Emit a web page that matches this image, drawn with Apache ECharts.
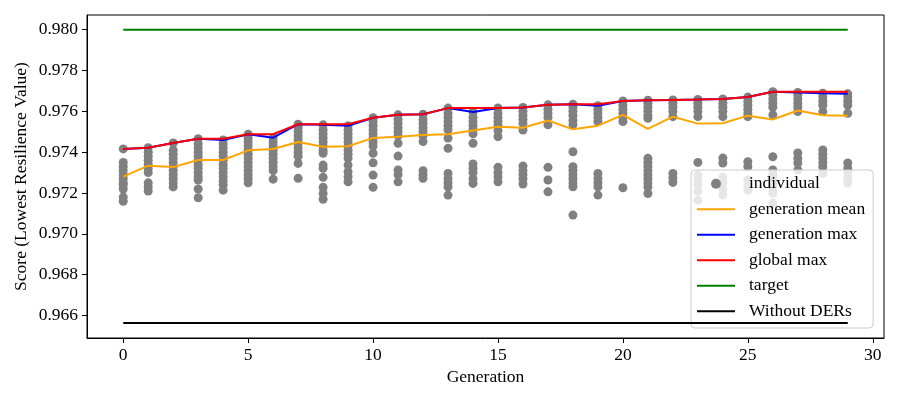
<!DOCTYPE html>
<html>
<head>
<meta charset="utf-8">
<script src="https://cdn.jsdelivr.net/npm/echarts@6/dist/echarts.min.js"></script>
<style>
html,body{margin:0;padding:0;background:#fff;}
#chart{width:900px;height:400px;}
</style>
</head>
<body>
<div id="chart"></div>
<script>
const generations = [0,1,2,3,4,5,6,7,8,9,10,11,12,13,14,15,16,17,18,19,20,21,22,23,24,25,26,27,28,29];
const genMean = [0.97280,0.97334,0.97327,0.97362,0.97362,0.97409,0.97416,0.97450,0.97427,0.97429,0.97470,0.97476,0.97484,0.97488,0.97506,0.97525,0.97520,0.97555,0.97512,0.97530,0.97583,0.97514,0.97574,0.97540,0.97542,0.97579,0.97560,0.97604,0.97581,0.97579];
const genMax = [0.97416,0.97422,0.97445,0.97466,0.97460,0.97488,0.97471,0.97537,0.97534,0.97529,0.97569,0.97583,0.97586,0.97616,0.97597,0.97617,0.97619,0.97632,0.97635,0.97628,0.97651,0.97655,0.97656,0.97658,0.97661,0.97670,0.97696,0.97693,0.97689,0.97686];
const globalMax = [0.97416,0.97422,0.97445,0.97466,0.97466,0.97488,0.97488,0.97537,0.97537,0.97537,0.97569,0.97583,0.97586,0.97616,0.97616,0.97617,0.97619,0.97632,0.97635,0.97635,0.97651,0.97655,0.97656,0.97658,0.97661,0.97670,0.97696,0.97696,0.97696,0.97696];
const targetScore = 0.980;
const withoutDERs = 0.96564;
const individuals = [
  [0.97416,0.9735,0.9733,0.9731,0.9729,0.9727,0.9725,0.9724,0.9722,0.9718,0.9716],
  [0.97422,0.9740,0.9738,0.9736,0.9734,0.9732,0.9730,0.9725,0.9723,0.9721],
  [0.97445,0.9741,0.9739,0.9737,0.9735,0.9733,0.9731,0.9729,0.9727,0.9725,0.9723],
  [0.97466,0.9744,0.9742,0.9740,0.9738,0.9736,0.9734,0.9732,0.9730,0.9728,0.97264,0.9722,0.97177],
  [0.97460,0.9744,0.9742,0.9740,0.9738,0.9736,0.9734,0.9732,0.9730,0.9728,0.9726,0.9724,0.97214],
  [0.97488,0.9747,0.9745,0.9743,0.9741,0.9739,0.9737,0.9735,0.9733,0.9731,0.9729,0.9727,0.9725],
  [0.97471,0.9745,0.9743,0.9741,0.9739,0.9737,0.9735,0.9733,0.9731,0.97268],
  [0.97537,0.9752,0.9750,0.9748,0.9746,0.9744,0.9742,0.9740,0.9738,0.97345,0.97272],
  [0.97534,0.9751,0.9749,0.9747,0.9745,0.9743,0.9741,0.97395,0.97337,0.97321,0.97277,0.97228,0.97198,0.97169],
  [0.97529,0.9751,0.9749,0.9747,0.9745,0.9743,0.9741,0.9739,0.9737,0.97337,0.97304,0.9728,0.97255],
  [0.97569,0.9755,0.9753,0.9751,0.9749,0.9747,0.9745,0.9743,0.97395,0.97348,0.97288,0.97228],
  [0.97583,0.9756,0.9754,0.9752,0.9750,0.9748,0.97444,0.97381,0.97313,0.9729,0.97255],
  [0.97586,0.9756,0.9754,0.9752,0.9750,0.9748,0.97452,0.97309,0.9729,0.97272],
  [0.97616,0.9759,0.9757,0.9755,0.9753,0.9751,0.97469,0.97419,0.97296,0.9727,0.9725,0.9723,0.9719],
  [0.97597,0.9757,0.9755,0.9753,0.9751,0.9749,0.97444,0.97342,0.9732,0.9730,0.9727,0.97247],
  [0.97617,0.9759,0.9757,0.9755,0.9753,0.97505,0.97476,0.97326,0.9730,0.97278,0.97255],
  [0.97619,0.9760,0.9758,0.9756,0.9754,0.97509,0.97332,0.9731,0.9729,0.9727,0.97244],
  [0.97632,0.9761,0.9759,0.9757,0.97534,0.97326,0.97264,0.97206],
  [0.97635,0.9762,0.9760,0.9758,0.97555,0.97534,0.97402,0.97329,0.9731,0.9729,0.9727,0.9725,0.97231,0.97092],
  [0.97628,0.9761,0.9759,0.9757,0.9755,0.97296,0.9727,0.9725,0.9723,0.9719],
  [0.97651,0.9763,0.9761,0.9759,0.9757,0.9755,0.97226],
  [0.97655,0.9764,0.9762,0.9760,0.9758,0.97566,0.97370,0.9735,0.9733,0.9731,0.9729,0.9727,0.9725,0.9723,0.97198],
  [0.97656,0.9764,0.9762,0.9760,0.97574,0.97296,0.97274,0.97252],
  [0.97658,0.9764,0.9762,0.9760,0.97574,0.97350,0.97288,0.9726,0.9724,0.9721,0.97165],
  [0.97661,0.9764,0.9762,0.9760,0.97574,0.97371,0.97347,0.97278,0.9725,0.9722,0.97190],
  [0.97670,0.9765,0.9763,0.9761,0.9759,0.97574,0.97353,0.97329,0.97264,0.97240,0.97214],
  [0.97696,0.9768,0.9766,0.9764,0.9762,0.97583,0.97378,0.97313,0.9729,0.9727,0.9725,0.9723,0.9720,0.97151],
  [0.97693,0.9768,0.9766,0.9764,0.9762,0.97599,0.97396,0.9737,0.97347,0.97313],
  [0.97689,0.9767,0.9765,0.9763,0.97599,0.97411,0.9739,0.9737,0.97349,0.97329,0.97296],
  [0.97686,0.9767,0.9765,0.9763,0.97591,0.97347,0.9732,0.9730,0.97275,0.97249]
];
const xTicks = [0,5,10,15,20,25,30];
const yTicks = [0.966,0.968,0.970,0.972,0.974,0.976,0.978,0.980];

const FONT = '"Liberation Serif", "Times New Roman", serif';
const LINE_ICON = 'path://M0,0 L38,0 L38,2 L0,2 Z';
const scatterData = [];
individuals.forEach((vals, i) => vals.forEach(v => scatterData.push([generations[i], v])));
const pair = arr => generations.map((g, i) => [g, arr[i]]);
const constLine = v => generations.map(g => [g, v]);

const chart = echarts.init(document.getElementById('chart'), null, {renderer: 'canvas'});
chart.setOption({
  animation: false,
  backgroundColor: '#fff',
  textStyle: {fontFamily: FONT},
  grid: {left: 87, top: 15, width: 797, height: 323, show: true, borderColor: '#000', borderWidth: 1, backgroundColor: 'transparent'},
  xAxis: {
    type: 'value', min: -1.45, max: 30.45,
    name: 'Generation', nameLocation: 'middle', nameGap: 29,
    nameTextStyle: {fontFamily: FONT, fontSize: 17.5, color: '#000'},
    axisLine: {show: true, onZero: false, lineStyle: {color: '#000', width: 1}},
    axisTick: {show: true, length: 5, lineStyle: {color: '#000'}, customValues: xTicks},
    axisLabel: {fontFamily: FONT, fontSize: 17.5, color: '#000', margin: 8, customValues: xTicks},
    splitLine: {show: false}
  },
  yAxis: {
    type: 'value', min: 0.96490, max: 0.98072,
    name: 'Score (Lowest Resilience Value)', nameLocation: 'middle', nameGap: 57, nameRotate: 90,
    nameMoveOverlap: false,
    nameTextStyle: {fontFamily: FONT, fontSize: 17.5, color: '#000'},
    axisLine: {show: true, onZero: false, lineStyle: {color: '#000', width: 1}},
    axisTick: {show: true, length: 5, lineStyle: {color: '#000'}, customValues: yTicks},
    axisLabel: {fontFamily: FONT, fontSize: 17.5, color: '#000', margin: 9, customValues: yTicks, formatter: v => v.toFixed(3)},
    splitLine: {show: false}
  },
  legend: {
    orient: 'vertical', left: 691, top: 170,
    itemWidth: 38, itemHeight: 10, itemGap: 0,
    padding: [1, 8, 4, 6],
    backgroundColor: 'rgba(255,255,255,0.8)', borderColor: '#cccccc', borderWidth: 1, borderRadius: 4,
    textStyle: {fontFamily: FONT, fontSize: 17.5, color: '#000', lineHeight: 25.5, padding: [0, 0, 0, 9]},
    data: [
      {name: 'individual', icon: 'circle'},
      {name: 'generation mean', icon: LINE_ICON},
      {name: 'generation max', icon: LINE_ICON},
      {name: 'global max', icon: LINE_ICON},
      {name: 'target', icon: LINE_ICON},
      {name: 'Without DERs', icon: LINE_ICON}
    ]
  },
  series: [
    {name: 'individual', type: 'scatter', data: scatterData, symbolSize: 9, itemStyle: {color: '#808080', opacity: 1}, z: 1},
    {name: 'generation mean', type: 'line', data: pair(genMean), symbol: 'none', lineStyle: {color: '#FFA500', width: 2}, itemStyle: {color: '#FFA500'}, z: 2},
    {name: 'generation max', type: 'line', data: pair(genMax), symbol: 'none', lineStyle: {color: '#0000FF', width: 2}, itemStyle: {color: '#0000FF'}, z: 3},
    {name: 'global max', type: 'line', data: pair(globalMax), symbol: 'none', lineStyle: {color: '#FF0000', width: 2}, itemStyle: {color: '#FF0000'}, z: 4},
    {name: 'target', type: 'line', data: constLine(targetScore), symbol: 'none', lineStyle: {color: '#008000', width: 2}, itemStyle: {color: '#008000'}, z: 5},
    {name: 'Without DERs', type: 'line', data: constLine(withoutDERs), symbol: 'none', lineStyle: {color: '#000000', width: 2}, itemStyle: {color: '#000000'}, z: 6}
  ]
});
</script>
</body>
</html>
